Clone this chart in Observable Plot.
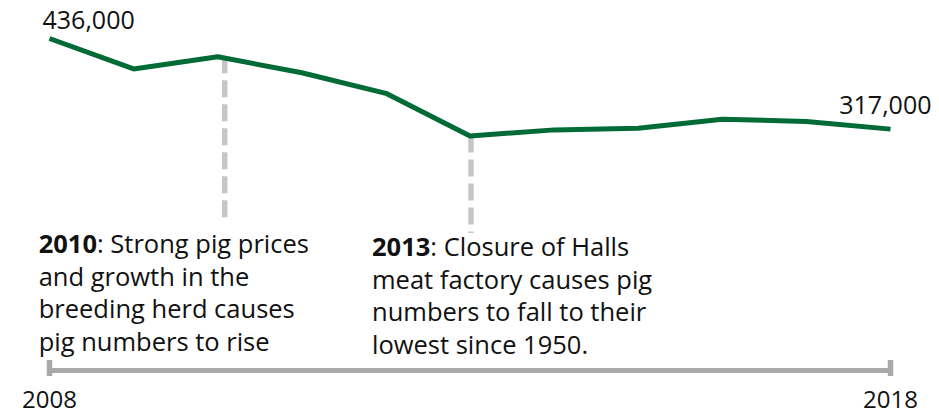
<!DOCTYPE html>
<html>
<head>
<meta charset="utf-8">
<script src="https://cdn.jsdelivr.net/npm/d3@7"></script>
<script src="https://cdn.jsdelivr.net/npm/@observablehq/plot@0.6"></script>
<style>
  html, body { margin: 0; padding: 0; background: #ffffff; }
  #chart svg { display: block; }
</style>
</head>
<body>
<div id="chart"></div>
<script>
// ---- Data ----
const years = [2008, 2009, 2010, 2011, 2012, 2013, 2014, 2015, 2016, 2017, 2018];
const pigs  = [436000, 396000, 412000, 391000, 364000, 308000, 316000, 318000, 330000, 327000, 317000];

const endYears  = [2008, 2018];
const endLabels = ["436,000", "317,000"];

const tickYears = [2008, 2018];

const annYears = [2010, 2013];
const annTexts = [
  "2010: Strong pig prices\nand growth in the\nbreeding herd causes\npig numbers to rise",
  "2013: Closure of Halls\nmeat factory causes pig\nnumbers to fall to their\nlowest since 1950."
];

// ---- Derived tables ----
const data = years.map((year, i) => ({year, pigs: pigs[i]}));
const valueAt = (y) => data.find((d) => d.year === y).pigs;
const ann = annYears.map((year, i) => ({year, pigs: valueAt(year), text: annTexts[i]}));
const ends = endYears.map((year, i) => ({year, pigs: valueAt(year), label: endLabels[i]}));

const GREEN = "#006b36";
const AXIS = "#a9a9a9";
const DASH = "#c6c6c6";
const INK = "#111111";

const chart = Plot.plot({
  width: 939,
  height: 415,
  marginLeft: 49,
  marginRight: 49,
  marginTop: 38,
  marginBottom: 45,
  x: {domain: [2008, 2018], axis: null},
  y: {domain: [0, 436000], axis: null},
  style: {fontFamily: "'Open Sans', sans-serif", fontSize: "24px", color: INK, background: "#ffffff", overflow: "visible"},
  marks: [
    // dashed annotation leaders
    Plot.ruleX([ann[0]], {x: "year", y1: "pigs", y2: 0, dx: 7, insetBottom: 152, stroke: DASH, strokeWidth: 5.5, strokeDasharray: "17,7"}),
    Plot.ruleX([ann[1]], {x: "year", y1: "pigs", y2: 0, dx: 1, insetBottom: 137, stroke: DASH, strokeWidth: 5.5, strokeDasharray: "17,7"}),
    // timeline axis
    Plot.ruleY([0], {x1: tickYears[0], x2: tickYears[1], stroke: AXIS, strokeWidth: 5}),
    Plot.ruleX(tickYears, {x: (d) => d, y1: 0, y2: 0, insetTop: -10, insetBottom: -6, stroke: AXIS, strokeWidth: 5.5}),
    // tick labels
    Plot.text(tickYears, {x: (d) => d, y: 0, text: (d) => String(d), lineAnchor: "top", dy: 20, fontSize: 24, fill: INK}),
    // series line
    Plot.line(data, {x: "year", y: "pigs", stroke: GREEN, strokeWidth: 5, strokeLinejoin: "miter", strokeLinecap: "butt"}),
    // end value labels
    Plot.text([ends[0]], {x: "year", y: "pigs", text: "label", textAnchor: "start", lineAnchor: "bottom", dx: -7, dy: -10, fontSize: 25, fill: INK}),
    Plot.text([ends[1]], {x: "year", y: "pigs", text: "label", textAnchor: "end", lineAnchor: "bottom", dx: 41, dy: -15, fontSize: 25, fill: INK}),
    // annotations
    Plot.text([ann[0]], {x: "year", y: 0, text: "text", textAnchor: "start", lineAnchor: "bottom", lineHeight: 1.27, dx: -179, dy: -20, fontSize: 25.5, fill: INK}),
    Plot.text([ann[1]], {x: "year", y: 0, text: "text", textAnchor: "start", lineAnchor: "bottom", lineHeight: 1.27, dx: -98, dy: -17, fontSize: 25.5, fill: INK})
  ]
});

// Bold the leading year of each annotation (keeps real text)
const ns = "http://www.w3.org/2000/svg";
chart.querySelectorAll("text").forEach((t) => {
  const first = t.querySelector("tspan");
  if (!first) return;
  const m = first.textContent.match(/^(\d{4})(:.*)$/);
  if (!m) return;
  first.textContent = "";
  const b = document.createElementNS(ns, "tspan");
  b.setAttribute("font-weight", "bold");
  b.textContent = m[1];
  const r = document.createElementNS(ns, "tspan");
  r.textContent = m[2];
  first.append(b, r);
});

document.getElementById("chart").append(chart);
</script>
</body>
</html>
